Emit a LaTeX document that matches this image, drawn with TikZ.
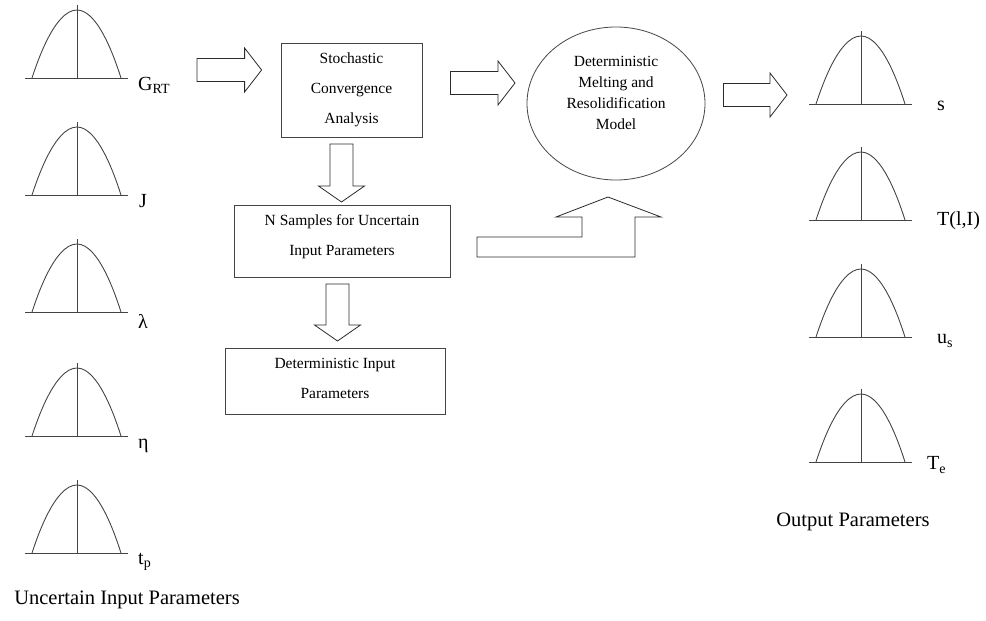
\documentclass[tikz,border=0pt]{standalone}
\usepackage{fontspec}
\setmainfont{Liberation Serif}
\usetikzlibrary{calc, positioning, shapes.geometric}
\definecolor{LineGray}{HTML}{444444}
\definecolor{ArrGray}{HTML}{2A2A2A}

% hollow block arrows: start point, tip point
\newcommand{\hollowright}[2]{%
  \draw[blockarr] ($(#1)+(0,-11.5)$) -- ($(#2)+(-17,-11.5)$) -- ($(#2)+(-17,-22)$) -- (#2)
    -- ($(#2)+(-17,22)$) -- ($(#2)+(-17,11.5)$) -- ($(#1)+(0,11.5)$) -- cycle;}
\newcommand{\hollowdown}[2]{%
  \draw[blockarr] ($(#1)+(-11.5,0)$) -- ($(#2)+(-11.5,-16)$) -- ($(#2)+(-23,-16)$) -- (#2)
    -- ($(#2)+(23,-16)$) -- ($(#2)+(11.5,-16)$) -- ($(#1)+(11.5,0)$) -- cycle;}

\tikzset{
    bell/.pic={
        \draw[curve] (-52,0) -- (51,0);
        \draw[curve] (-45,0) parabola bend (0,-68) (44,0);
        \draw[curve] (0,0) -- (0,-73);
    }
}

\begin{document}
\begin{tikzpicture}[
    x=1pt, y=-1pt,
    box/.style={
        draw=LineGray, line width=0.8pt, align=center, inner sep=0pt,
        font=\fontsize{15.5}{30}\selectfont
    },
    curve/.style={draw=LineGray, line width=0.9pt},
    blockarr/.style={draw=ArrGray, line width=0.8pt},
    lbl/.style={font=\fontsize{20}{24}\selectfont, inner sep=0pt},
    title/.style={font=\fontsize{20.5}{24}\selectfont, inner sep=0pt}
]
\useasboundingbox (0,0) rectangle (986,621);

% =============================================
% Uncertain input distributions (left column)
% =============================================
\pic at (77,78)  {bell};
\pic at (77,195) {bell};
\pic at (77,312) {bell};
\pic at (77,436) {bell};
\pic at (77,553) {bell};

\node[lbl, anchor=west] (grt) at (138,85)  {G\textsubscript{RT}};
\node[lbl, anchor=west] (jj)  at (139,201) {J};
\node[lbl, anchor=west] (lam) at (138,321) {λ};
\node[lbl, anchor=west] (eta) at (138,446) {η};
\node[lbl, anchor=west] (tp)  at (138,562) {t\textsubscript{p}};

\node[title] (inlbl) at (127,600) {Uncertain Input Parameters};

% =============================================
% Boxes
% =============================================
\node[box, minimum width=141pt, minimum height=94pt] (stoch) at (351.5,90)
    {Stochastic\\Convergence\\Analysis};
\node[box, minimum width=216pt, minimum height=72pt] (nsamp) at (342,241)
    {N Samples for Uncertain\\Input Parameters\\[-18pt]\mbox{}};
\node[box, minimum width=220pt, minimum height=66pt] (detin) at (335,381)
    {Deterministic Input\\Parameters\\[-24pt]\mbox{}};

% =============================================
% Model ellipse
% =============================================
\node[ellipse, draw=LineGray, line width=0.8pt, minimum width=178pt,
      minimum height=153pt, inner sep=0pt] (model) at (616,103.5) {};
\node[align=center, font=\fontsize{15.5}{21}\selectfont, inner sep=0pt]
    (modeltxt) at ([yshift=11pt]model.center)
    {Deterministic\\Melting and\\Resolidification\\Model};

% =============================================
% Output distributions (right column)
% =============================================
\pic at (861,104) {bell};
\pic at (861,220) {bell};
\pic at (861,337) {bell};
\pic at (861,462) {bell};

\node[lbl, anchor=west] (sout) at (937,106) {s};
\node[lbl, anchor=west] (tli)  at (937,221) {T(l,I)};
\node[lbl, anchor=west] (us)   at (937,341) {u\textsubscript{s}};
\node[lbl, anchor=west] (te)   at (927,465) {T\textsubscript{e}};

\node[title] (outlbl) at (853,522) {Output Parameters};

% =============================================
% Block arrows
% =============================================
\coordinate (a1s) at (197,70);
\coordinate (a1t) at ([xshift=-19pt]stoch.west |- a1s);
\hollowright{a1s}{a1t}

\coordinate (a2s) at ([xshift=28pt]stoch.east |- 0,83);
\coordinate (a2t) at (515,83);
\hollowright{a2s}{a2t}

\coordinate (a3s) at ([xshift=18pt]model.east |- 0,95);
\coordinate (a3t) at (787,95);
\hollowright{a3s}{a3t}

\coordinate (d1s) at (341.5,144);
\coordinate (d1t) at (341.5,202);
\hollowdown{d1s}{d1t}

\coordinate (d2s) at (337.5,284);
\coordinate (d2t) at (337.5,341);
\hollowdown{d2s}{d2t}

% N samples -> model (bent arrow)
\coordinate (bendstart) at (477,247);
\coordinate (bendtip) at (608,197);
\draw[blockarr] ([yshift=10pt]bendstart) -- ++(105,0) -- ++(0,-20) -- ++(-26,0)
    -- (bendtip) -- ++(53,20) -- ++(-26,0) -- ++(0,40) -- ++(-158,0) -- cycle;

\end{tikzpicture}
\end{document}
